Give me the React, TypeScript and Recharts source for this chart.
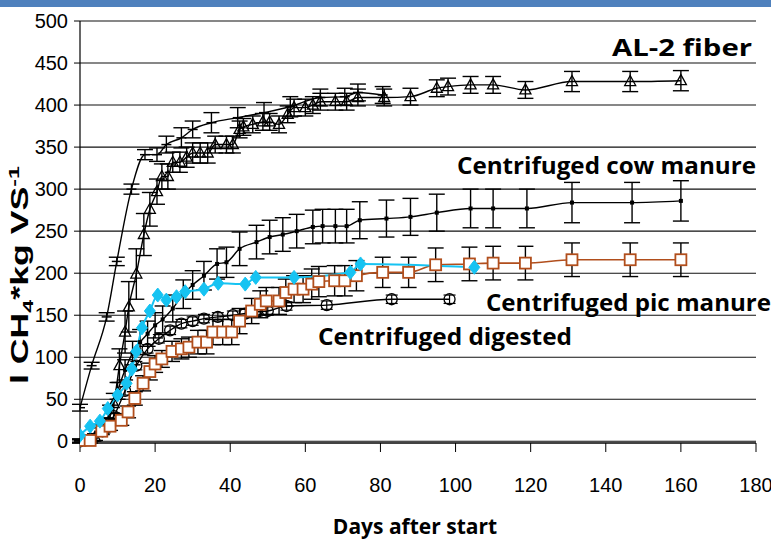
import React from 'react';
import { ComposedChart, Line, XAxis, YAxis, CartesianGrid, ErrorBar } from 'recharts';

// AL-2 fiber (open triangles)
const al2Days = [0, 4, 7, 9, 10.5, 12, 13, 15, 17, 18.6, 20.5, 21.8, 23.4, 24.7, 26.6, 28.4, 30, 32, 34, 36, 39, 40.7, 42.5, 43.5, 46, 48.7, 50.5, 53, 55.3, 57, 60, 62, 64, 68, 71, 74, 81, 88, 95, 98, 104, 110, 118.6, 131, 146.5, 160];
const al2Vals = [0, 5, 20, 45, 90, 130, 160, 199, 246, 276, 297, 315, 315, 332, 332, 338, 343, 343, 343, 353, 353, 353, 371, 374, 377, 380, 380, 377, 389, 397, 397, 400, 404, 404, 404, 409, 409, 410, 420, 422, 424, 424, 418, 428, 428, 429];
const al2Err = [2, 4, 8, 12, 20, 25, 30, 30, 25, 20, 15, 15, 15, 12, 12, 12, 12, 12, 12, 10, 10, 10, 10, 10, 10, 10, 10, 10, 10, 10, 10, 10, 10, 10, 10, 10, 10, 10, 10, 10, 10, 10, 10, 12, 12, 12];

// Unlabelled fast series (dash markers)
const dashDays = [0, 3.1, 7.1, 9.8, 13.7, 17.3, 20.5, 23, 27, 30, 35, 42, 49, 56, 64, 70.5, 74, 80.6];
const dashVals = [40, 90, 148, 214, 300, 341, 341, 353, 361, 371, 379, 385, 391, 398, 409, 410, 415, 412];
const dashErr = [4, 4, 5, 5, 6, 6, 8, 10, 12, 10, 12, 12, 12, 12, 10, 10, 10, 10];

// Centrifuged cow manure (small filled squares)
const cowDays = [0, 3, 6, 8, 10, 12, 14, 16, 18, 20, 22, 24.7, 27.5, 30, 33, 36.5, 39, 42.5, 47, 50.5, 54, 57.7, 62, 64.6, 68, 71, 74.5, 81.6, 88, 95, 104, 110, 119, 131, 147, 160];
const cowVals = [0, 3, 15, 35, 60, 85, 105, 118, 128, 138, 145, 158, 175, 186, 197, 211, 213, 229, 237, 243, 246, 250, 255, 256, 256, 256, 263, 265, 267, 272, 277, 277, 277, 284, 284, 286];
const cowErr = [2, 3, 5, 8, 10, 12, 14, 15, 15, 15, 16, 16, 17, 17, 17, 18, 18, 20, 20, 20, 20, 20, 20, 20, 20, 20, 22, 22, 22, 22, 23, 23, 23, 24, 24, 24];

// Centrifuged pig manure (orange open squares)
const pigDays = [0, 2.7, 5.8, 8, 11, 12.8, 14.6, 16.8, 18.6, 20, 21.8, 24.5, 27, 29, 31.4, 33.7, 35.4, 38, 40.4, 42.5, 45.7, 48, 49.6, 53, 54.8, 57, 59.4, 61.7, 63.6, 67.8, 70.5, 73.6, 80.6, 87.5, 94.7, 103.7, 110, 118.6, 131, 146.5, 160];
const pigVals = [1, 1, 12, 18, 25, 35, 51, 69, 83, 92, 98, 107, 110, 112, 118, 118, 130, 130, 130, 143, 155, 163, 167, 167, 177, 181, 181, 187, 190, 191, 191, 197, 201, 201, 210, 211, 212, 212, 216, 216, 216];
const pigErr = [2, 3, 4, 5, 6, 7, 8, 9, 10, 10, 10, 12, 12, 12, 14, 14, 15, 15, 15, 15, 15, 16, 16, 16, 16, 16, 16, 18, 18, 18, 18, 18, 18, 18, 20, 20, 20, 20, 20, 20, 20];

// Centrifuged digested (open circles)
const digDays = [0, 3, 6, 9, 12, 15, 18, 21, 24, 27, 30, 33, 36.7, 40.7, 44, 47, 50, 55, 65.7, 83, 98.4];
const digVals = [0, 3, 12, 30, 60, 90, 110, 122, 132, 140, 143, 146, 148, 150, 152, 154, 155, 161, 162, 169, 169];
const digErr = [1, 2, 3, 4, 5, 5, 5, 5, 5, 5, 5, 5, 5, 5, 5, 5, 5, 5, 5, 5, 5];

// Unlabelled cyan series (diamonds)
const blueDays = [0, 2.7, 5.3, 7.4, 10, 12.4, 13.8, 15, 16.5, 18.6, 20.7, 23, 25.7, 28, 33, 36.8, 44, 46.8, 57, 72, 74.7, 105];
const blueVals = [7, 18, 24, 39, 55, 69, 86, 107, 135, 155, 174, 168, 172, 178, 181, 188, 187, 195, 195, 201, 211, 207];

const xTicks = [0, 20, 40, 60, 80, 100, 120, 140, 160, 180];
const yTicks = [0, 50, 100, 150, 200, 250, 300, 350, 400, 450, 500];

const build = (d: number[], v: number[], e?: number[]) =>
  d.map((x, i) => ({ d: x, v: v[i], e: e ? e[i] : 0 }));

const al2Data = build(al2Days, al2Vals, al2Err);
const dashData = build(dashDays, dashVals, dashErr);
const cowData = build(cowDays, cowVals, cowErr);
const pigData = build(pigDays, pigVals, pigErr);
const digData = build(digDays, digVals, digErr);
const blueData = build(blueDays, blueVals);

const ORANGE = '#B14E1C';
const CYAN = '#16C3F2';

const triDot = (p: any) => (
  <path key={`t${p.index}`} d={`M${p.cx},${p.cy - 6} L${p.cx + 5.5},${p.cy + 4} L${p.cx - 5.5},${p.cy + 4} Z`} fill="none" stroke="#000" strokeWidth={1.3} />
);
const dashDot = (p: any) => (
  <path key={`h${p.index}`} d={`M${p.cx - 5},${p.cy} L${p.cx + 5},${p.cy}`} stroke="#000" strokeWidth={1.5} />
);
const cowDot = (p: any) => (
  <rect key={`c${p.index}`} x={p.cx - 2} y={p.cy - 2} width={4} height={4} fill="#000" />
);
const pigDot = (p: any) => (
  <rect key={`p${p.index}`} x={p.cx - 5.5} y={p.cy - 5.5} width={11} height={11} fill="#fff" stroke={ORANGE} strokeWidth={1.8} />
);
const digDot = (p: any) => (
  <circle key={`g${p.index}`} cx={p.cx} cy={p.cy} r={5.5} fill="none" stroke="#000" strokeWidth={1.3} />
);
const blueDot = (p: any) => (
  <path key={`b${p.index}`} d={`M${p.cx},${p.cy - 7} L${p.cx + 5.5},${p.cy} L${p.cx},${p.cy + 7} L${p.cx - 5.5},${p.cy} Z`} fill={CYAN} stroke={CYAN} strokeWidth={1} />
);

const tickFont = { fontFamily: '"Liberation Sans Narrow", "Liberation Sans", Arial, sans-serif', fontSize: 20, fill: '#000' };
const boldFont = '"Open Sans", "Noto Sans", sans-serif';

export default function App() {
  return (
    <div style={{ position: 'absolute', left: 0, top: 0, width: 771, height: 541, background: '#fff', overflow: 'hidden' }}>
      <div style={{ position: 'absolute', left: 0, top: 0, width: 771, height: 7, background: '#4F81BD' }} />
      <ComposedChart width={771} height={541} margin={{ top: 21, right: 15, left: 8, bottom: 38 }}>
        <CartesianGrid horizontal vertical={false} stroke="#111" strokeWidth={1.1} />
        <XAxis
          type="number"
          dataKey="d"
          domain={[0, 180]}
          ticks={xTicks}
          allowDataOverflow
          height={60}
          tickSize={9}
          tickMargin={26}
          axisLine={{ stroke: '#000', strokeWidth: 1.2 }}
          tickLine={{ stroke: '#000' }}
          tick={tickFont}
        />
        <YAxis
          type="number"
          domain={[0, 500]}
          ticks={yTicks}
          width={72}
          tickSize={6}
          tickMargin={6}
          axisLine={{ stroke: '#000', strokeWidth: 1.2 }}
          tickLine={{ stroke: '#000' }}
          tick={tickFont}
        />
        <Line data={al2Data} dataKey="v" type="monotone" stroke="#000" strokeWidth={1.4} dot={triDot} isAnimationActive={false}>
          <ErrorBar dataKey="e" direction="y" width={8} stroke="#000" strokeWidth={1.4} />
        </Line>
        <Line data={dashData} dataKey="v" type="monotone" stroke="#000" strokeWidth={1.4} dot={dashDot} isAnimationActive={false}>
          <ErrorBar dataKey="e" direction="y" width={8} stroke="#000" strokeWidth={1.4} />
        </Line>
        <Line data={cowData} dataKey="v" type="monotone" stroke="#000" strokeWidth={1.4} dot={cowDot} isAnimationActive={false}>
          <ErrorBar dataKey="e" direction="y" width={8} stroke="#000" strokeWidth={1.4} />
        </Line>
        <Line data={digData} dataKey="v" type="monotone" stroke="#000" strokeWidth={1.4} dot={digDot} isAnimationActive={false}>
          <ErrorBar dataKey="e" direction="y" width={6} stroke="#000" strokeWidth={1.2} />
        </Line>
        <Line data={pigData} dataKey="v" type="monotone" stroke={ORANGE} strokeWidth={1.6} dot={pigDot} isAnimationActive={false}>
          <ErrorBar dataKey="e" direction="y" width={8} stroke="#000" strokeWidth={1.4} />
        </Line>
        <Line data={blueData} dataKey="v" type="monotone" stroke={CYAN} strokeWidth={2} dot={blueDot} isAnimationActive={false} />
      </ComposedChart>
      <svg width={771} height={541} style={{ position: 'absolute', left: 0, top: 0, pointerEvents: 'none' }}>
        <g fontFamily={boldFont} fontWeight="bold" fill="#000">
          <text x={612} y={56} fontSize={24} textLength={140} lengthAdjust="spacingAndGlyphs">AL-2 fiber</text>
          <text x={457} y={174} fontSize={24} textLength={299} lengthAdjust="spacingAndGlyphs">Centrifuged cow manure</text>
          <text x={486} y={311} fontSize={24} textLength={285} lengthAdjust="spacingAndGlyphs">Centrifuged pic manure</text>
          <text x={318} y={345} fontSize={24} textLength={254} lengthAdjust="spacingAndGlyphs">Centrifuged digested</text>
          <text x={415} y={534} fontSize={21} textAnchor="middle">Days after start</text>
        </g>
        <text
          transform="translate(28,384) rotate(-90)"
          fontFamily='"Liberation Sans", Arial, sans-serif'
          fontWeight="bold"
          fontSize={23}
          fill="#000"
          textLength={218}
          lengthAdjust="spacingAndGlyphs"
        >
          <tspan>l CH</tspan>
          <tspan fontSize={15} dy={5}>4</tspan>
          <tspan dy={-5}>*kg VS</tspan>
          <tspan fontSize={15} dy={-9}>-1</tspan>
        </text>
      </svg>
    </div>
  );
}
